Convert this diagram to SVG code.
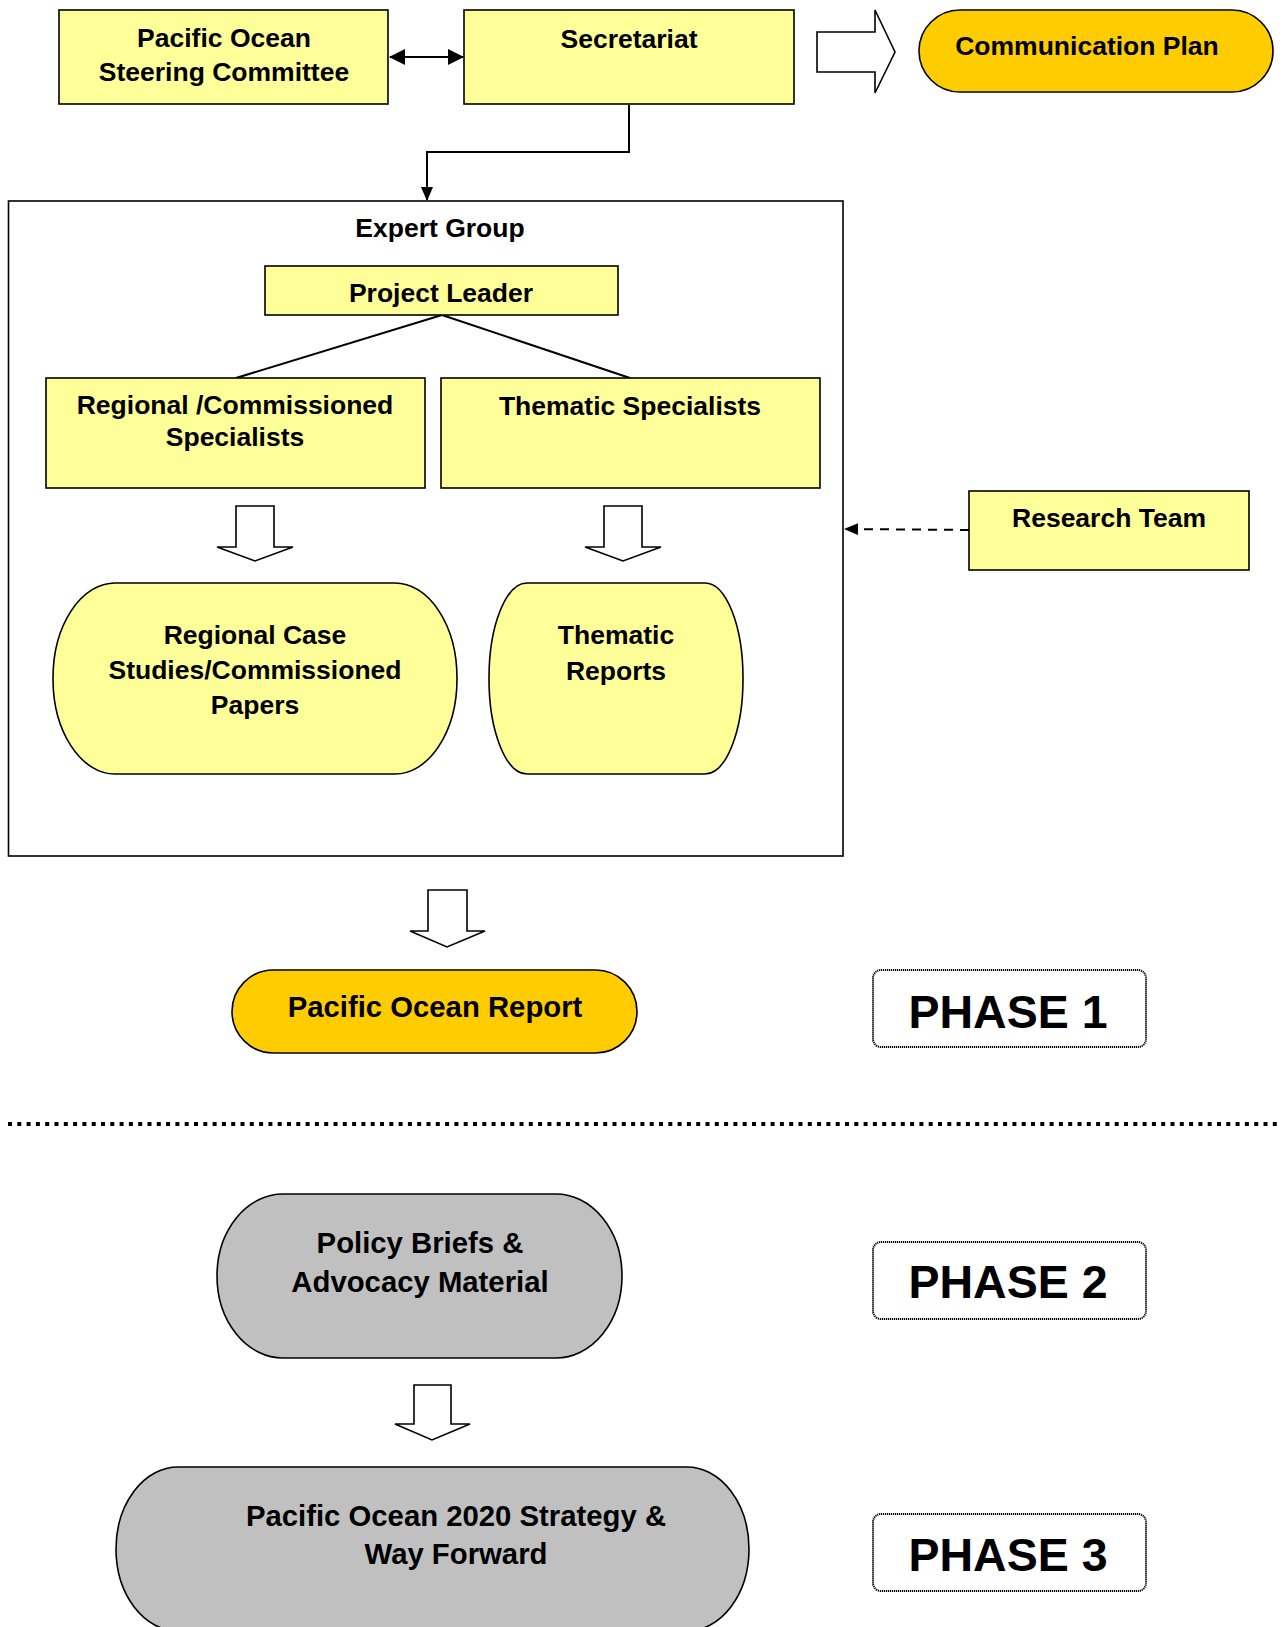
<svg xmlns="http://www.w3.org/2000/svg" width="1282" height="1627" viewBox="0 0 1282 1627">
<style>
text{font-family:"Liberation Sans",Arial,sans-serif;font-weight:bold;fill:#000;text-anchor:middle}
.t{font-size:26.5px}
.m{font-size:29.3px}
.p{font-size:46.5px}
.y{fill:#FFFF99;stroke:#000;stroke-width:1.6}
.o{fill:#FFCC00;stroke:#000;stroke-width:1.6}
.g{fill:#C0C0C0;stroke:#000;stroke-width:1.6}
.blk{fill:#fff;stroke:#000;stroke-width:1.6;stroke-linejoin:miter}
.ph{fill:#fff;stroke:#000;stroke-width:2;stroke-dasharray:1.2 0.8}
.ln{fill:none;stroke:#000;stroke-width:2}
</style>
<defs>
<marker id="ah" markerWidth="14" markerHeight="14" refX="13" refY="7" orient="auto" markerUnits="userSpaceOnUse" viewBox="0 0 14 14">
<path d="M0,1 L14,7 L0,13 z" fill="#000"/>
</marker>
<marker id="ahs" markerWidth="16" markerHeight="16" refX="15" refY="8" orient="auto-start-reverse" markerUnits="userSpaceOnUse" viewBox="0 0 16 16">
<path d="M0,0 L16,8 L0,16 z" fill="#000"/>
</marker>
</defs>

<g id="connectors">
<line class="ln" x1="390" y1="57" x2="463" y2="57" marker-start="url(#ahs)" marker-end="url(#ahs)"/>
<polyline class="ln" points="629,105 629,152 427,152 427,200" marker-end="url(#ah)"/>
<line class="ln" x1="442" y1="315" x2="236" y2="378"/>
<line class="ln" x1="442" y1="315" x2="630" y2="378"/>
<line class="ln" x1="969" y1="530" x2="845" y2="529" stroke-dasharray="9 7" marker-end="url(#ah)"/>
<polygon class="blk" points="817,32 875,32 875,10 895,52 875,93 875,72 817,72"/>
<polygon class="blk" points="236,506 274,506 274,547 293,547 255,561 217,547 236,547"/>
<polygon class="blk" points="604,506 642,506 642,547 661,547 623,561 585,547 604,547"/>
<polygon class="blk" points="428,890 467,890 467,931 485,931 447,947 410,931 428,931"/>
<polygon class="blk" points="414,1385 451,1385 451,1424 470,1424 432,1440 395,1424 414,1424"/>
<line x1="8" y1="1124" x2="1282" y2="1124" stroke="#000" stroke-width="4" stroke-dasharray="4 5.3"/>
</g>

<g id="steering"><rect class="y" x="59" y="10" width="329" height="94"/>
<text class="t" x="224" y="47">Pacific Ocean</text><text class="t" x="224" y="81">Steering Committee</text></g>
<g id="secretariat"><rect class="y" x="464" y="10" width="330" height="94"/>
<text class="t" x="629" y="48">Secretariat</text></g>
<g id="commplan"><rect class="o" x="919" y="10" width="354" height="82" rx="41" ry="41"/>
<text class="t" x="1087" y="55">Communication Plan</text></g>

<g id="expertgroup"><rect x="8.5" y="201" width="834.5" height="655" fill="none" stroke="#000" stroke-width="1.6"/>
<text class="t" x="440" y="237">Expert Group</text></g>
<g id="projectleader"><rect class="y" x="265" y="266" width="353" height="49"/>
<text class="t" x="441" y="302">Project Leader</text></g>
<g id="regional"><rect class="y" x="46" y="378" width="379" height="110"/>
<text class="t" x="235" y="414">Regional /Commissioned</text><text class="t" x="235" y="446">Specialists</text></g>
<g id="thematic"><rect class="y" x="441" y="378" width="379" height="110"/>
<text class="t" x="630" y="415">Thematic Specialists</text></g>
<g id="casestudies"><rect class="y" x="53" y="583" width="404" height="191" rx="62" ry="95"/>
<text class="t" x="255" y="644">Regional Case</text><text class="t" x="255" y="679">Studies/Commissioned</text><text class="t" x="255" y="714">Papers</text></g>
<g id="thematicreports"><rect class="y" x="489" y="583" width="254" height="191" rx="38" ry="95"/>
<text class="t" x="616" y="644">Thematic</text><text class="t" x="616" y="680">Reports</text></g>
<g id="research"><rect class="y" x="969" y="491" width="280" height="79"/>
<text class="t" x="1109" y="527">Research Team</text></g>

<g id="report"><rect class="o" x="232" y="970" width="405" height="83" rx="41.5" ry="41.5"/>
<text class="m" x="435" y="1017">Pacific Ocean Report</text></g>
<g id="phase1"><rect class="ph" x="873" y="970" width="273" height="77" rx="8"/>
<text class="p" x="1008" y="1028">PHASE 1</text></g>

<g id="policy"><rect class="g" x="217" y="1194" width="405" height="164" rx="66" ry="82"/>
<text class="m" x="420" y="1253">Policy Briefs &amp;</text><text class="m" x="420" y="1292">Advocacy Material</text></g>
<g id="phase2"><rect class="ph" x="873" y="1242" width="273" height="77" rx="8"/>
<text class="p" x="1008" y="1298">PHASE 2</text></g>

<g id="strategy"><rect class="g" x="116" y="1467" width="633" height="164" rx="62" ry="82"/>
<text class="m" x="456" y="1526">Pacific Ocean 2020 Strategy &amp;</text><text class="m" x="456" y="1564">Way Forward</text></g>
<g id="phase3"><rect class="ph" x="873" y="1514" width="273" height="77" rx="8"/>
<text class="p" x="1008" y="1571">PHASE 3</text></g>
</svg>
